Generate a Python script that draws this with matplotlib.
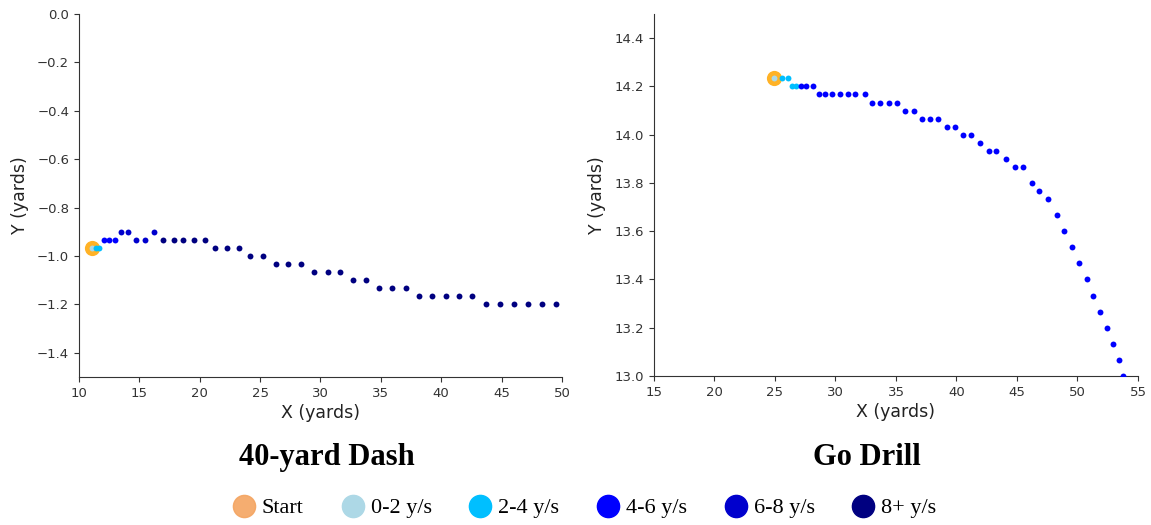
import matplotlib
matplotlib.use('Agg')
import matplotlib.pyplot as plt
from matplotlib.lines import Line2D

# speed bins: 0 = 0-2, 1 = 2-4, 2 = 4-6, 3 = 6-8, 4 = 8+ y/s
bin_labels = ['0-2 y/s', '2-4 y/s', '4-6 y/s', '6-8 y/s', '8+ y/s']
bin_colors = ['lightblue', 'deepskyblue', 'blue', 'mediumblue', 'navy']

# 40-yard dash track
dash_start = (11.1, -0.967)
dash_x = [11.1, 11.4, 11.7, 12.1, 12.5, 13.0, 13.5, 14.1, 14.75, 15.45, 16.2,
          17.0, 17.85, 18.65, 19.5, 20.4, 21.3, 22.3, 23.25, 24.2, 25.25,
          26.35, 27.35, 28.4, 29.5, 30.6, 31.65, 32.7, 33.8, 34.85, 35.95,
          37.05, 38.15, 39.25, 40.4, 41.5, 42.55, 43.75, 44.85, 46.0, 47.15,
          48.35, 49.5]
dash_y = [-0.967, -0.967, -0.967, -0.933, -0.933, -0.933, -0.9, -0.9, -0.933,
          -0.933, -0.9, -0.933, -0.933, -0.933, -0.933, -0.933, -0.967, -0.967,
          -0.967, -1.0, -1.0, -1.033, -1.033, -1.033, -1.067, -1.067, -1.067,
          -1.1, -1.1, -1.133, -1.133, -1.133, -1.167, -1.167, -1.167, -1.167,
          -1.167, -1.2, -1.2, -1.2, -1.2, -1.2, -1.2]
dash_bin = [0, 1, 1, 2, 2, 2, 3, 3, 3, 3, 3] + [4] * 32

# go drill track
go_start = (24.92, 14.233)
go_x = [24.92, 25.55, 26.1, 26.4, 26.75, 27.12, 27.6, 28.1, 28.6, 29.15,
        29.75, 30.35, 31.0, 31.65, 32.4, 33.05, 33.7, 34.4, 35.05, 35.75,
        36.45, 37.15, 37.8, 38.45, 39.2, 39.85, 40.55, 41.2, 41.95, 42.7,
        43.3, 44.1, 44.8, 45.5, 46.2, 46.85, 47.55, 48.3, 48.9, 49.55, 50.1,
        50.75, 51.3, 51.85, 52.4, 52.9, 53.4, 53.75]
go_y = [14.233, 14.233, 14.233, 14.2, 14.2, 14.2, 14.2, 14.2, 14.167, 14.167,
        14.167, 14.167, 14.167, 14.167, 14.167, 14.133, 14.133, 14.133, 14.133,
        14.1, 14.1, 14.067, 14.067, 14.067, 14.033, 14.033, 14.0, 14.0, 13.967,
        13.933, 13.933, 13.9, 13.867, 13.867, 13.8, 13.767, 13.733, 13.667,
        13.6, 13.533, 13.467, 13.4, 13.333, 13.267, 13.2, 13.133, 13.067, 13.0]
go_bin = [0, 1, 1, 1, 1] + [2] * 43

titles = ['40-yard Dash', 'Go Drill']

fig = plt.figure(figsize=(11.51, 5.25), dpi=100)
ax1 = fig.add_axes([0.0686, 0.2819, 0.4196, 0.6914])
ax2 = fig.add_axes([0.5682, 0.2838, 0.4205, 0.6895])


def draw_track(ax, start, xs, ys, bins, ypad):
    ax.scatter([start[0]], [start[1]], s=120, color='orange', alpha=0.85,
               zorder=2, linewidths=0)
    for b, c in enumerate(bin_colors):
        px = [x for x, k in zip(xs, bins) if k == b]
        py = [y for y, k in zip(ys, bins) if k == b]
        if px:
            ax.scatter(px, py, s=18, color=c, zorder=3, linewidths=0)
    ax.spines['top'].set_visible(False)
    ax.spines['right'].set_visible(False)
    for s in ['left', 'bottom']:
        ax.spines[s].set_color('#333333')
    ax.tick_params(labelsize=9.5, colors='#333333')
    ax.set_xlabel('X (yards)', fontsize=12.5, color='#222222', labelpad=3)
    ax.set_ylabel('Y (yards)', fontsize=12.5, color='#222222', labelpad=ypad)


draw_track(ax1, dash_start, dash_x, dash_y, dash_bin, 6)
ax1.set_xlim(10, 50)
ax1.set_ylim(-1.5, 0)
ax1.set_yticks([0.0, -0.2, -0.4, -0.6, -0.8, -1.0, -1.2, -1.4])

draw_track(ax2, go_start, go_x, go_y, go_bin, 6)
ax2.set_xlim(15, 55)
ax2.set_ylim(13.0, 14.5)
ax2.set_yticks([13.0, 13.2, 13.4, 13.6, 13.8, 14.0, 14.2, 14.4])

fig.text(0.284, 0.128, titles[0], ha='center', va='center',
         family='Liberation Serif', fontweight='bold', fontsize=22)
fig.text(0.753, 0.128, titles[1], ha='center', va='center',
         family='Liberation Serif', fontweight='bold', fontsize=22)

handles = [Line2D([], [], marker='o', linestyle='', markersize=16,
                  color='sandybrown', alpha=0.9, label='Start')]
for lab, c in zip(bin_labels, bin_colors):
    handles.append(Line2D([], [], marker='o', linestyle='', markersize=16,
                          color=c, label=lab))
fig.legend(handles=handles, loc='center', bbox_to_anchor=(0.508, 0.032),
           ncol=6, frameon=False, handlelength=1.0, handletextpad=0.3,
           columnspacing=1.7, prop={'family': 'Liberation Serif', 'size': 16})

fig.savefig('out.png', dpi=100, facecolor='white')
